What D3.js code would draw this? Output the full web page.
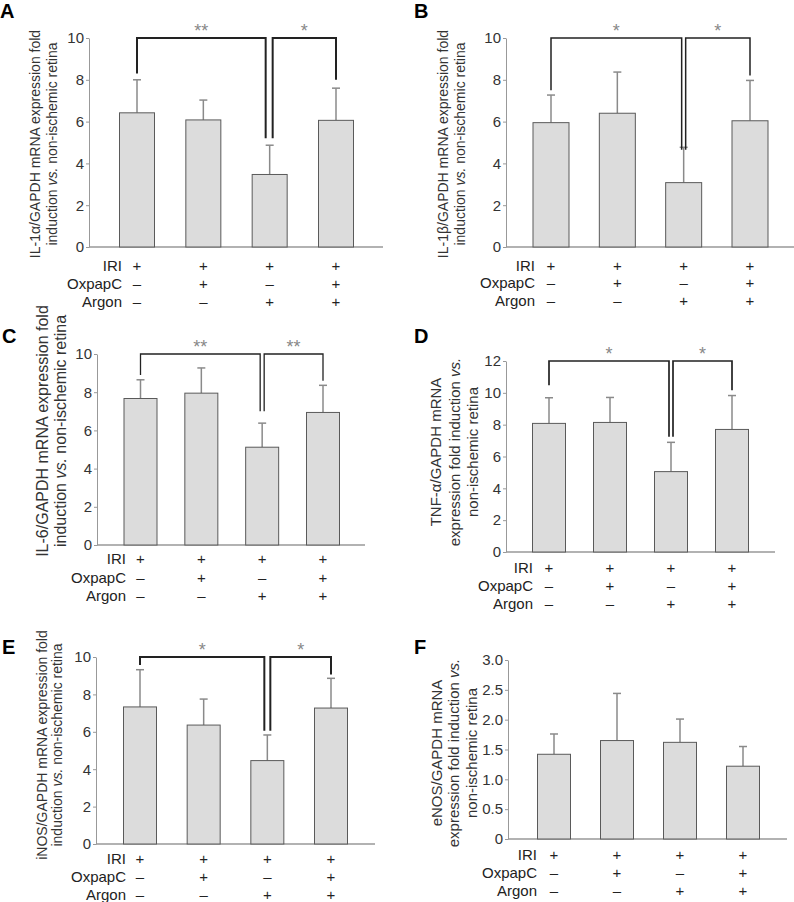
<!DOCTYPE html>
<html><head><meta charset="utf-8">
<script src="https://cdn.jsdelivr.net/npm/d3@7"></script>
<style>
body{margin:0;background:#fff}
svg{display:block}
text{font-family:"Liberation Sans",Arial,Helvetica,sans-serif}
</style>
</head><body>
<svg id="chart" width="794" height="902"></svg>
<script>
// ---------- data ----------
const rowNames = ["IRI", "OxpapC", "Argon"];
const iriRow = ["+", "+", "+", "+"];
const oxpapcRow = ["–", "+", "–", "+"];
const argonRow = ["–", "–", "+", "+"];

const il1aMean = [6.42, 6.08, 3.47, 6.06];
const il1aSD   = [1.58, 0.95, 1.40, 1.54];
const il1bMean = [5.95, 6.40, 3.08, 6.04];
const il1bSD   = [1.32, 1.97, 1.69, 1.93];
const il6Mean  = [7.67, 7.95, 5.12, 6.94];
const il6SD    = [0.98, 1.32, 1.26, 1.42];
const tnfMean  = [8.08, 8.14, 5.05, 7.70];
const tnfSD    = [1.61, 1.57, 1.84, 2.13];
const inosMean = [7.33, 6.36, 4.46, 7.27];
const inosSD   = [1.99, 1.39, 1.37, 1.59];
const enosMean = [1.42, 1.65, 1.62, 1.22];
const enosSD   = [0.34, 0.79, 0.39, 0.33];

const ticks10 = [0, 2, 4, 6, 8, 10];
const ticks10Labels = ["0", "2", "4", "6", "8", "10"];
const ticks12 = [0, 2, 4, 6, 8, 10, 12];
const ticks12Labels = ["0", "2", "4", "6", "8", "10", "12"];
const ticks3 = [0, 0.5, 1.0, 1.5, 2.0, 2.5, 3.0];
const ticks3Labels = ["0", "0.5", "1.0", "1.5", "2.0", "2.5", "3.0"];

// significance brackets: leg bottoms (data units) [left, mid-left, mid-right, right]
const sigLegsA = [8.3, 5.2, 5.2, 8.0];
const sigLegsB = [7.5, 4.65, 4.65, 8.2];
const sigLegsC = [8.9, 7.0, 7.0, 8.6];
const sigLegsD = [10.48, 7.24, 7.24, 10.17];
const sigLegsE = [9.57, 6.06, 6.06, 9.06];
const sigStarsA = ["**", "*"];
const sigStarsB = ["*", "*"];
const sigStarsC = ["**", "**"];
const sigStarsD = ["*", "*"];
const sigStarsE = ["*", "*"];

const labelA = ["IL-1α/GAPDH mRNA expression fold", "induction |vs.| non-ischemic retina"];
const labelB = ["IL-1β/GAPDH mRNA expression fold", "induction |vs.| non-ischemic retina"];
const labelC = ["IL-6/GAPDH mRNA expression fold", "induction |vs.| non-ischemic retina"];
const labelD = ["TNF-α/GAPDH mRNA", "expression fold induction |vs.|", "non-ischemic retina"];
const labelE = ["iNOS/GAPDH mRNA expression fold", "induction |vs.| non-ischemic retina"];
const labelF = ["eNOS/GAPDH mRNA", "expression fold induction |vs.|", "non-ischemic retina"];

// ---------- layout ----------
const panels = [
  {letter:"A", lx:0, ly:18, mean:il1aMean, sd:il1aSD, ticks:ticks10, tickLabels:ticks10Labels, label:labelA,
   axisX:89, yTop:38, yBot:247, x0:137, x1:336, barW:35, baseEnd:383, labelX:[35,52], labelFs:14, labelCY:144,
   rowY:[265,283,301], rowX:122, legs:sigLegsA, stars:sigStarsA, bw:2, off:[-4,3]},
  {letter:"B", lx:414, ly:18, mean:il1bMean, sd:il1bSD, ticks:ticks10, tickLabels:ticks10Labels, label:labelB,
   axisX:506, yTop:38, yBot:247, x0:551, x1:750, barW:36, baseEnd:794, labelX:[443,460], labelFs:14, labelCY:144,
   rowY:[265,282,300], rowX:535, legs:sigLegsB, stars:sigStarsB, bw:1.5, off:[-2,2]},
  {letter:"C", lx:2, ly:343, mean:il6Mean, sd:il6SD, ticks:ticks10, tickLabels:ticks10Labels, label:labelC,
   axisX:97, yTop:354, yBot:545, x0:140.5, x1:323, barW:33, baseEnd:365, labelX:[42,60], labelFs:16, labelCY:431,
   rowY:[558,577,595], rowX:126, legs:sigLegsC, stars:sigStarsC, bw:1.3, off:[-2,2]},
  {letter:"D", lx:414, ly:343, mean:tnfMean, sd:tnfSD, ticks:ticks12, tickLabels:ticks12Labels, label:labelD,
   axisX:506, yTop:361, yBot:552, x0:549, x1:732, barW:33, baseEnd:775, labelX:[435,454,472], labelFs:15, labelCY:452,
   rowY:[567,585,603], rowX:533, legs:sigLegsD, stars:sigStarsD, bw:1.7, off:[-2,2]},
  {letter:"E", lx:2, ly:654, mean:inosMean, sd:inosSD, ticks:ticks10, tickLabels:ticks10Labels, label:labelE,
   axisX:96, yTop:657, yBot:844, x0:140, x1:331, barW:33, baseEnd:375, labelX:[42,57], labelFs:14, labelCY:745,
   rowY:[858,876,894], rowX:126, legs:sigLegsE, stars:sigStarsE, bw:2, off:[-3,3]},
  {letter:"F", lx:414, ly:654, mean:enosMean, sd:enosSD, ticks:ticks3, tickLabels:ticks3Labels, label:labelF,
   axisX:508, yTop:660, yBot:839, x0:554, x1:743, barW:33, baseEnd:787, labelX:[436,453,471], labelFs:15, labelCY:753,
   rowY:[854,872,890], rowX:537, legs:null, stars:null, bw:2, off:[0,0]}
];

const rows = [iriRow, oxpapcRow, argonRow];
const svg = d3.select("#chart");
const axisCol = "#999", textCol = "#333";

panels.forEach(p => {
  const g = svg.append("g");
  const idx = d3.range(p.mean.length);
  const x = d3.scalePoint().domain(idx).range([p.x0, p.x1]);
  const yMax = p.ticks[p.ticks.length - 1];
  const y = d3.scaleLinear().domain([0, yMax]).range([p.yBot, p.yTop]);

  // panel letter
  g.append("text").attr("x", p.lx).attr("y", p.ly).attr("font-size", 20).attr("font-weight", "bold")
    .attr("fill", "#000").text(p.letter);

  // y axis
  const ax = g.append("g").attr("transform", `translate(${p.axisX},0)`)
    .call(d3.axisLeft(y).tickValues(p.ticks).tickFormat((d,i) => p.tickLabels[i]).tickSize(3).tickSizeOuter(0).tickPadding(2));
  ax.select(".domain").attr("stroke", axisCol);
  ax.selectAll(".tick line").attr("stroke", axisCol);
  ax.selectAll(".tick text").attr("fill", textCol).attr("font-size", 15)
    .attr("font-family", '"Liberation Sans",Arial,sans-serif');

  // baseline
  g.append("line").attr("x1", p.axisX).attr("x2", p.baseEnd).attr("y1", y(0)).attr("y2", y(0))
    .attr("stroke", axisCol).attr("stroke-width", 1.3);

  // error bars
  idx.forEach(i => {
    const cx = x(i);
    g.append("line").attr("x1", cx).attr("x2", cx).attr("y1", y(p.mean[i])).attr("y2", y(p.mean[i] + p.sd[i]))
      .attr("stroke", "#8a8a8a").attr("stroke-width", 1.5);
    g.append("line").attr("x1", cx - 4).attr("x2", cx + 4).attr("y1", y(p.mean[i] + p.sd[i])).attr("y2", y(p.mean[i] + p.sd[i]))
      .attr("stroke", "#8a8a8a").attr("stroke-width", 1.5);
  });

  // bars
  g.selectAll("rect.bar").data(idx).join("rect").attr("class", "bar")
    .attr("x", i => x(i) - p.barW / 2).attr("width", p.barW)
    .attr("y", i => y(p.mean[i])).attr("height", i => y(0) - y(p.mean[i]))
    .attr("fill", "#dcdcdc").attr("stroke", "#5a5a5a").attr("stroke-width", 1);

  // significance brackets
  if (p.legs) {
    const xs = [x(0), x(2) + p.off[0], x(2) + p.off[1], x(3)];
    const top = y(yMax);
    const path1 = `M${xs[0]},${y(p.legs[0])}V${top}H${xs[1]}V${y(p.legs[1])}`;
    const path2 = `M${xs[2]},${y(p.legs[2])}V${top}H${xs[3]}V${y(p.legs[3])}`;
    [path1, path2].forEach(d => g.append("path").attr("d", d).attr("fill", "none")
      .attr("stroke", "#222").attr("stroke-width", p.bw));
    g.append("text").attr("x", (xs[0] + xs[1]) / 2).attr("y", top - 1).attr("text-anchor", "middle")
      .attr("font-size", 18).attr("fill", "#888").text(p.stars[0]);
    g.append("text").attr("x", (xs[2] + xs[3]) / 2).attr("y", top - 1).attr("text-anchor", "middle")
      .attr("font-size", 18).attr("fill", "#888").text(p.stars[1]);
  }

  // y label
  p.label.forEach((line, li) => {
    const t = g.append("text").attr("transform", `translate(${p.labelX[li]},${p.labelCY}) rotate(-90)`)
      .attr("text-anchor", "middle").attr("dominant-baseline", "central")
      .attr("font-size", p.labelFs).attr("fill", textCol);
    line.split("|").forEach((seg, si) => {
      t.append("tspan").attr("font-style", si === 1 ? "italic" : "normal").text(seg);
    });
  });

  // condition table
  rowNames.forEach((name, ri) => {
    g.append("text").attr("x", p.rowX).attr("y", p.rowY[ri]).attr("text-anchor", "end")
      .attr("dominant-baseline", "central").attr("font-size", 15).attr("fill", "#222").text(name);
    rows[ri].forEach((s, i) => {
      g.append("text").attr("x", x(i)).attr("y", p.rowY[ri]).attr("text-anchor", "middle")
        .attr("dominant-baseline", "central").attr("font-size", 15).attr("fill", "#222").text(s);
    });
  });
});
</script>
</body></html>
